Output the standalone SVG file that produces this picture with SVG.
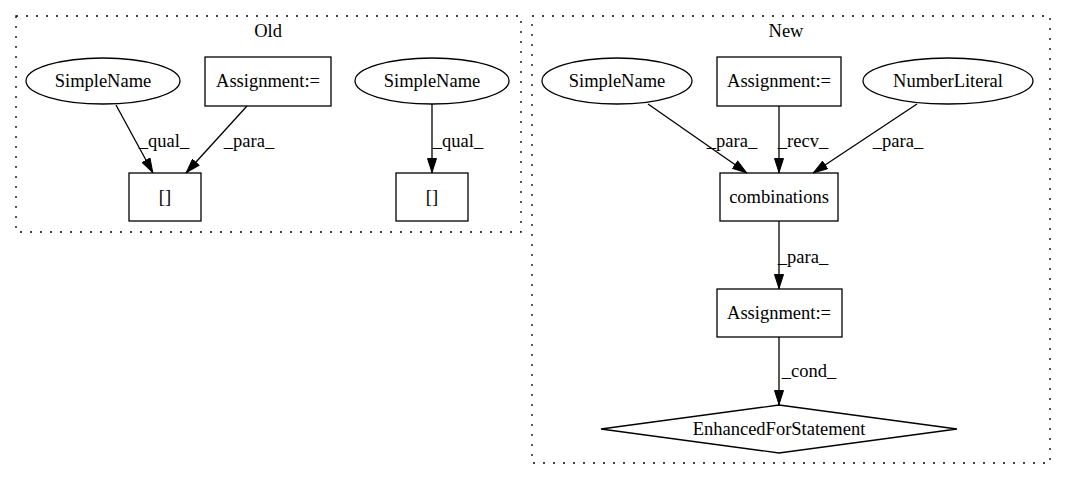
<svg xmlns="http://www.w3.org/2000/svg" width="1067" height="480" viewBox="0 0 1067 480">
<style>
text{font-family:"Liberation Serif","Times New Roman",serif;font-size:18.5px;fill:#000;text-anchor:middle}
.n{fill:none;stroke:#000;stroke-width:1.3}
.c{fill:none;stroke:#000;stroke-width:1.3;stroke-dasharray:2,8}
.e{fill:none;stroke:#000;stroke-width:1.3;marker-end:url(#a)}
</style>
<defs>
<marker id="a" markerWidth="15" markerHeight="10" refX="15" refY="5" orient="auto" markerUnits="userSpaceOnUse">
<path d="M0.5,0.5 L14.5,5 L0.5,9.5 z" fill="#000" stroke="#000"/>
</marker>
</defs>
<rect width="1067" height="480" fill="#fff"/>
<g id="cluster_old">
<rect class="c" x="16" y="16" width="505" height="216"/>
<text x="268" y="37">Old</text>
</g>
<g id="cluster_new">
<rect class="c" x="532" y="16" width="518" height="447"/>
<text x="786" y="37">New</text>
</g>
<g id="edges">
<path class="e" d="M116,105 L153,173"/>
<text x="164" y="147">_qual_</text>
<path class="e" d="M247,106 L186,173"/>
<text x="249" y="147">_para_</text>
<path class="e" d="M432,104 L432,173"/>
<text x="458" y="147">_qual_</text>
<path class="e" d="M648,104 L747,173"/>
<text x="732" y="147">_para_</text>
<path class="e" d="M779,106 L779,173"/>
<text x="803" y="147">_recv_</text>
<path class="e" d="M917,104 L813,173"/>
<text x="898" y="147">_para_</text>
<path class="e" d="M779,221 L779,289"/>
<text x="803" y="263">_para_</text>
<path class="e" d="M779,337 L779,405"/>
<text x="809" y="377">_cond_</text>
</g>
<g id="old_simplename1"><ellipse class="n" cx="103" cy="81" rx="77" ry="23"/><text x="103" y="87">SimpleName</text></g>
<g id="old_assignment"><rect class="n" x="205" y="57" width="126" height="49"/><text x="268" y="87">Assignment:=</text></g>
<g id="old_simplename2"><ellipse class="n" cx="432" cy="81" rx="77" ry="23"/><text x="432" y="87">SimpleName</text></g>
<g id="old_index1"><rect class="n" x="129" y="173" width="72" height="48"/><text x="165" y="203">[]</text></g>
<g id="old_index2"><rect class="n" x="396" y="173" width="72" height="48"/><text x="432" y="203">[]</text></g>
<g id="new_simplename"><ellipse class="n" cx="617" cy="81" rx="75" ry="23"/><text x="617" y="87">SimpleName</text></g>
<g id="new_assignment1"><rect class="n" x="717" y="57" width="124" height="49"/><text x="779" y="87">Assignment:=</text></g>
<g id="new_numberliteral"><ellipse class="n" cx="948" cy="81" rx="85" ry="23"/><text x="948" y="87">NumberLiteral</text></g>
<g id="new_combinations"><rect class="n" x="720" y="173" width="118" height="48"/><text x="779" y="203">combinations</text></g>
<g id="new_assignment2"><rect class="n" x="717" y="289" width="125" height="48"/><text x="779" y="319">Assignment:=</text></g>
<g id="new_enhancedfor"><polygon class="n" points="779,405 957,429 779,453 601,429"/><text x="779" y="435">EnhancedForStatement</text></g>
</svg>
